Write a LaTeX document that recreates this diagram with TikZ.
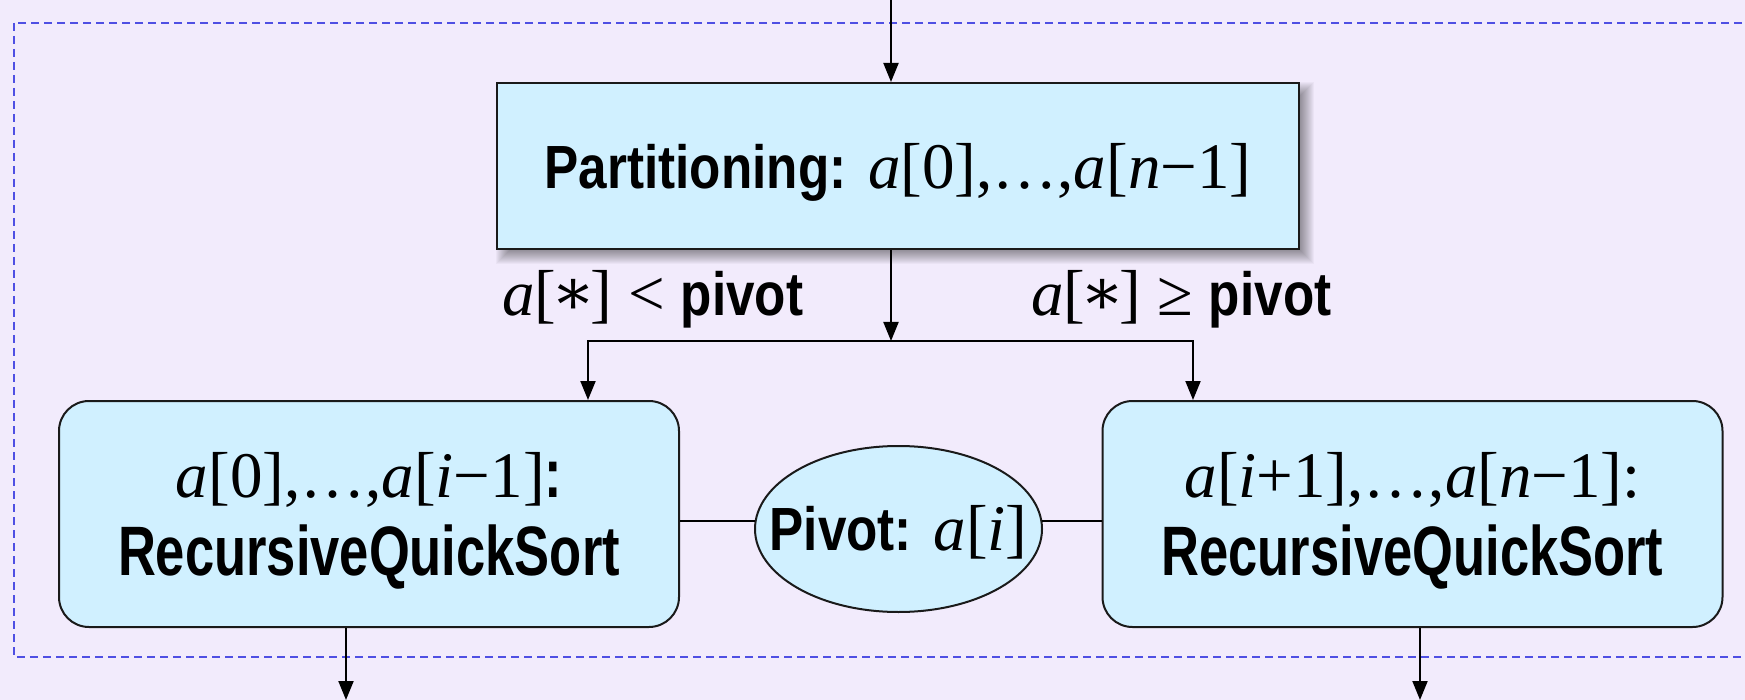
\documentclass[tikz,border=0pt]{standalone}
\usepackage{fontspec}
\setmainfont{Liberation Serif}
\newfontfamily\nsans[FakeStretch=0.84]{Liberation Sans}
\newfontfamily\nsansw[FakeStretch=0.75]{Liberation Sans}
\newfontfamily\tms{Liberation Serif}
\newfontfamily\djv{DejaVu Serif}
\usetikzlibrary{arrows.meta,shapes.geometric}
\definecolor{bgc}{HTML}{F2EBFC}
\definecolor{boxc}{HTML}{D0F0FF}
\definecolor{dashc}{HTML}{4F4FE3}
\definecolor{edgec}{HTML}{1A1A1A}
\newcommand\sbf[1]{{\fontsize{61}{61}\nsans\bfseries #1}}
\newcommand\sbw[1]{{\fontsize{70}{78}\nsansw\bfseries #1}}
\newcommand\mi[1]{{\tms\itshape #1\/}}
\newcommand\mr[1]{{\tms #1}}
\newcommand\myast{\makebox[0.52em][c]{\djv\raisebox{0.02em}{∗}}}
\newcommand\twolines[2]{\makebox[0pt]{\raisebox{17pt}{\begin{tabular}[t]{@{}c@{}}#1\\#2\end{tabular}}}}
\begin{document}
\begin{tikzpicture}[x=1pt,y=-1pt,
  txt/.style={font=\fontsize{65}{78}\selectfont, text=black},
  sqbox/.style={draw=edgec, line width=2pt, fill=boxc, inner sep=0pt, minimum width=802pt, minimum height=166pt},
  roundbox/.style={draw=edgec, line width=2pt, fill=boxc, rounded corners=30pt, inner sep=0pt, minimum width=620pt, minimum height=226pt, text height=0pt, text depth=0pt},
  pivnode/.style={ellipse, draw=edgec, line width=2pt, fill=boxc, inner sep=0pt, minimum width=287pt, minimum height=166pt, text height=0pt, text depth=0pt},
  arr/.style={draw=black, line width=2pt, -{Triangle[length=19pt,width=15pt]}},
  link/.style={draw=black, line width=2pt},
  frame/.style={draw=dashc, line width=1.6pt, dash pattern=on 8pt off 5pt},
  shade/.style={fill=black, opacity=0.03}]
\fill[bgc] (0,0) rectangle (1745,700);
\useasboundingbox (0,0) rectangle (1745,700);
\clip (0,0) rectangle (1745,700);
\draw[frame] (14,23) rectangle (1765,657);
% drop shadow of the top box
\foreach \r in {0,...,13} \fill[shade] (509-\r,95-\r) rectangle (1301+\r,251+\r);
\node[sqbox, txt, text height=58pt, text depth=12pt] (top) at (898,166) {\sbf{Partitioning:} \mi{a}\mr{[0],…,}\mi{a}\mr{[}\mi{n}\mr{−1]}};
\node[roundbox, txt] (boxl) at (369,514) {\twolines{\mi{a}\mr{[0],…,}\mi{a}\mr{[}\mi{i}\mr{−1]}\sbw{:}}{\sbw{RecursiveQuickSort}}};
\node[roundbox, txt] (boxr) at (1412.5,514) {\twolines{\mi{a}\mr{[}\mi{i}\mr{+1],…,}\mi{a}\mr{[}\mi{n}\mr{−1]:}}{\sbw{RecursiveQuickSort}}};
\node[pivnode, txt] (piv) at (898.5,529) {\makebox[0pt]{\raisebox{-21pt}{\sbf{Pivot:} \mi{a}\mr{[}\mi{i}\mr{]}}}};
\node[txt, anchor=base west, inner sep=0pt] (lbl) at (502,316) {\mi{a}\mr{[\myast] < }\sbf{pivot}};
\node[txt, anchor=base west, inner sep=0pt] (lbr) at (1031,316) {\mi{a}\mr{[\myast] ≥ }\sbf{pivot}};
\coordinate (tin) at (891,0);
\coordinate (j) at (891,341);
\coordinate (jl) at (588,341);
\coordinate (jr) at (1193,341);
\coordinate (ol) at (346,700);
\coordinate (or) at (1420,700);
\draw[arr] (tin) -- (tin |- top.north);
\draw[arr] (j |- top.south) -- (j);
\draw[arr] (j) -- (jl) -- (jl |- boxl.north);
\draw[arr] (j) -- (jr) -- (jr |- boxr.north);
\draw[link] (boxl.east |- piv.177) -- (piv.177);
\draw[link] (piv.3) -- (boxr.west |- piv.3);
\draw[arr] (ol |- boxl.south) -- (ol);
\draw[arr] (or |- boxr.south) -- (or);
\end{tikzpicture}
\end{document}
